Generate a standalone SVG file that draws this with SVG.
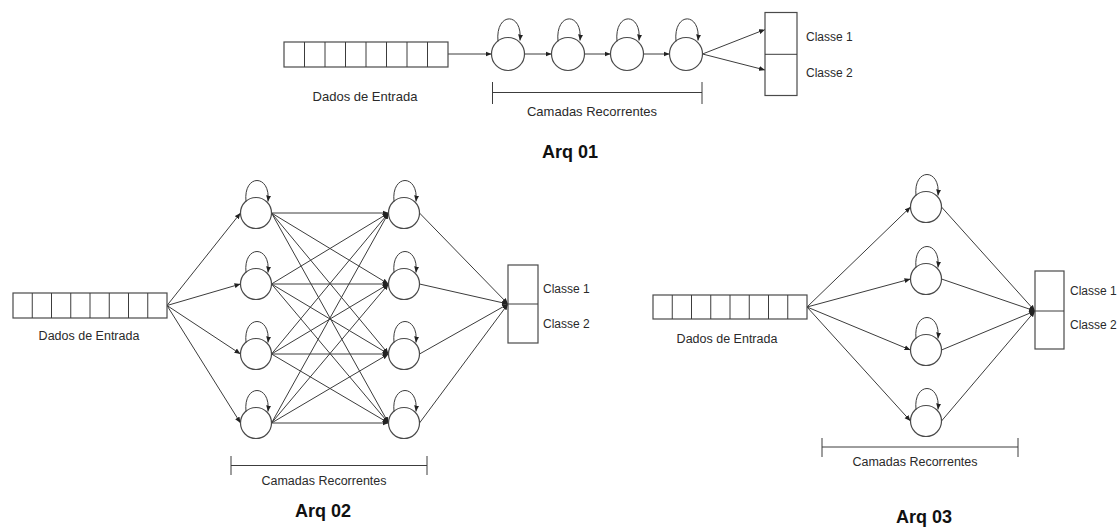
<svg xmlns="http://www.w3.org/2000/svg" width="1118" height="527" viewBox="0 0 1118 527">
<defs>
<marker id="ah" markerUnits="userSpaceOnUse" markerWidth="7" markerHeight="6" refX="6" refY="3" orient="auto">
<path d="M0,0.5 L6,3 L0,5.5 z" fill="#222"/>
</marker>
<style>
.ln{stroke:#3c3c3c;stroke-width:1;fill:none}
.arr{stroke:#3c3c3c;stroke-width:1;fill:none;marker-end:url(#ah)}
.nd{stroke:#4a4a4a;stroke-width:1.2;fill:#fff}
.box{stroke:#4a4a4a;stroke-width:1.2;fill:#fff}
.lbl{font-family:"Liberation Sans",Arial,sans-serif;fill:#2a2a2a}
.ttl{font-family:"Liberation Sans",Arial,sans-serif;font-weight:bold;font-size:18px;fill:#111;text-anchor:middle}
</style>
</defs>
<rect width="1118" height="527" fill="#fff"/>

<!-- ============ Connectors ============ -->
<g id="connectors">
<!-- Arq 01 -->
<line class="arr" x1="448" y1="54" x2="491.5" y2="54"/>
<line class="arr" x1="524.5" y1="54" x2="551.5" y2="54"/>
<line class="arr" x1="584.5" y1="54" x2="610.5" y2="54"/>
<line class="arr" x1="643.5" y1="54" x2="669.5" y2="54"/>
<line class="arr" x1="702.5" y1="54" x2="765" y2="29.5"/>
<line class="arr" x1="702.5" y1="54" x2="765" y2="70"/>
<!-- Arq 02 input -->
<line class="arr" x1="167" y1="305.5" x2="240.5" y2="213"/>
<line class="arr" x1="167" y1="305.5" x2="240.5" y2="284"/>
<line class="arr" x1="167" y1="305.5" x2="240.5" y2="354"/>
<line class="arr" x1="167" y1="305.5" x2="240.5" y2="423"/>
<!-- Arq 02 full connections -->
<line class="arr" x1="271.5" y1="213" x2="388.5" y2="213"/>
<line class="arr" x1="271.5" y1="213" x2="388.5" y2="284"/>
<line class="arr" x1="271.5" y1="213" x2="388.5" y2="354"/>
<line class="arr" x1="271.5" y1="213" x2="388.5" y2="423"/>
<line class="arr" x1="271.5" y1="284" x2="388.5" y2="213"/>
<line class="arr" x1="271.5" y1="284" x2="388.5" y2="284"/>
<line class="arr" x1="271.5" y1="284" x2="388.5" y2="354"/>
<line class="arr" x1="271.5" y1="284" x2="388.5" y2="423"/>
<line class="arr" x1="271.5" y1="354" x2="388.5" y2="213"/>
<line class="arr" x1="271.5" y1="354" x2="388.5" y2="284"/>
<line class="arr" x1="271.5" y1="354" x2="388.5" y2="354"/>
<line class="arr" x1="271.5" y1="354" x2="388.5" y2="423"/>
<line class="arr" x1="271.5" y1="423" x2="388.5" y2="213"/>
<line class="arr" x1="271.5" y1="423" x2="388.5" y2="284"/>
<line class="arr" x1="271.5" y1="423" x2="388.5" y2="354"/>
<line class="arr" x1="271.5" y1="423" x2="388.5" y2="423"/>
<!-- Arq 02 output -->
<line class="arr" x1="419.5" y1="213" x2="508" y2="304"/>
<line class="arr" x1="419.5" y1="284" x2="508" y2="304"/>
<line class="arr" x1="419.5" y1="354" x2="508" y2="304"/>
<line class="arr" x1="419.5" y1="423" x2="508" y2="304"/>
<!-- Arq 03 -->
<line class="arr" x1="807" y1="307" x2="910.5" y2="207"/>
<line class="arr" x1="807" y1="307" x2="910.5" y2="279"/>
<line class="arr" x1="807" y1="307" x2="910.5" y2="350"/>
<line class="arr" x1="807" y1="307" x2="910.5" y2="421"/>
<line class="arr" x1="941.5" y1="207" x2="1035" y2="311"/>
<line class="arr" x1="941.5" y1="279" x2="1035" y2="311"/>
<line class="arr" x1="941.5" y1="350" x2="1035" y2="311"/>
<line class="arr" x1="941.5" y1="421" x2="1035" y2="311"/>
</g>

<!-- ============ Arq 01 ============ -->
<g id="a1-input">
<rect class="box" x="284" y="42" width="164" height="25"/>
<path class="ln" d="M304.5,42V67M325,42V67M345.5,42V67M366,42V67M386.5,42V67M407,42V67M427.5,42V67"/>
<text class="lbl" x="365" y="101" font-size="13" text-anchor="middle">Dados de Entrada</text>
</g>
<g id="a1-n1"><circle class="nd" cx="508" cy="54" r="16.5"/><path class="arr" d="M498,41.5 C495,11.5 523,11.5 520,40.5"/></g>
<g id="a1-n2"><circle class="nd" cx="568" cy="54" r="16.5"/><path class="arr" d="M558,41.5 C555,11.5 583,11.5 580,40.5"/></g>
<g id="a1-n3"><circle class="nd" cx="627" cy="54" r="16.5"/><path class="arr" d="M617,41.5 C614,11.5 642,11.5 639,40.5"/></g>
<g id="a1-n4"><circle class="nd" cx="686" cy="54" r="16.5"/><path class="arr" d="M676,41.5 C673,11.5 701,11.5 698,40.5"/></g>
<g id="a1-out">
<rect class="box" x="765" y="12.5" width="32" height="83"/>
<line class="ln" x1="765" y1="54.3" x2="797" y2="54.3"/>
<text class="lbl" x="806" y="41" font-size="12">Classe 1</text>
<text class="lbl" x="806" y="77" font-size="12">Classe 2</text>
</g>
<g id="a1-bracket">
<path class="ln" d="M492.5,82V104M492.5,92.5H702M702,82V104"/>
<text class="lbl" x="592" y="116" font-size="13" text-anchor="middle">Camadas Recorrentes</text>
</g>
<text class="ttl" x="570" y="158">Arq 01</text>

<!-- ============ Arq 02 ============ -->
<g id="a2-input">
<rect class="box" x="13" y="293" width="154" height="25"/>
<path class="ln" d="M32.25,293V318M51.5,293V318M70.75,293V318M90,293V318M109.25,293V318M128.5,293V318M147.75,293V318"/>
<text class="lbl" x="89" y="340" font-size="12.5" text-anchor="middle">Dados de Entrada</text>
</g>
<g id="a2-l1-n1"><circle class="nd" cx="256" cy="213" r="15.5"/><path class="arr" d="M246,201.5 C243,173.5 271,173.5 268,201.5"/></g>
<g id="a2-l1-n2"><circle class="nd" cx="256" cy="284" r="15.5"/><path class="arr" d="M246,272.5 C243,244.5 271,244.5 268,272.5"/></g>
<g id="a2-l1-n3"><circle class="nd" cx="256" cy="354" r="15.5"/><path class="arr" d="M246,342.5 C243,314.5 271,314.5 268,342.5"/></g>
<g id="a2-l1-n4"><circle class="nd" cx="256" cy="423" r="15.5"/><path class="arr" d="M246,411.5 C243,383.5 271,383.5 268,411.5"/></g>
<g id="a2-l2-n1"><circle class="nd" cx="404" cy="213" r="15.5"/><path class="arr" d="M394,201.5 C391,173.5 419,173.5 416,201.5"/></g>
<g id="a2-l2-n2"><circle class="nd" cx="404" cy="284" r="15.5"/><path class="arr" d="M394,272.5 C391,244.5 419,244.5 416,272.5"/></g>
<g id="a2-l2-n3"><circle class="nd" cx="404" cy="354" r="15.5"/><path class="arr" d="M394,342.5 C391,314.5 419,314.5 416,342.5"/></g>
<g id="a2-l2-n4"><circle class="nd" cx="404" cy="423" r="15.5"/><path class="arr" d="M394,411.5 C391,383.5 419,383.5 416,411.5"/></g>
<g id="a2-out">
<rect class="box" x="508" y="265" width="30" height="78"/>
<line class="ln" x1="508" y1="304" x2="538" y2="304"/>
<text class="lbl" x="543" y="293" font-size="12">Classe 1</text>
<text class="lbl" x="543" y="328" font-size="12">Classe 2</text>
</g>
<g id="a2-bracket">
<path class="ln" d="M231,456V475M231,465.5H427M427,456V475"/>
<text class="lbl" x="324" y="485" font-size="12.5" text-anchor="middle">Camadas Recorrentes</text>
</g>
<text class="ttl" x="323" y="517">Arq 02</text>

<!-- ============ Arq 03 ============ -->
<g id="a3-input">
<rect class="box" x="653" y="295" width="154" height="24"/>
<path class="ln" d="M672.25,295V319M691.5,295V319M710.75,295V319M730,295V319M749.25,295V319M768.5,295V319M787.75,295V319"/>
<text class="lbl" x="727" y="343" font-size="12.5" text-anchor="middle">Dados de Entrada</text>
</g>
<g id="a3-n1"><circle class="nd" cx="926" cy="207" r="15.5"/><path class="arr" d="M916,195.5 C913,167.5 941,167.5 938,195.5"/></g>
<g id="a3-n2"><circle class="nd" cx="926" cy="279" r="15.5"/><path class="arr" d="M916,267.5 C913,239.5 941,239.5 938,267.5"/></g>
<g id="a3-n3"><circle class="nd" cx="926" cy="350" r="15.5"/><path class="arr" d="M916,338.5 C913,310.5 941,310.5 938,338.5"/></g>
<g id="a3-n4"><circle class="nd" cx="926" cy="421" r="15.5"/><path class="arr" d="M916,409.5 C913,381.5 941,381.5 938,409.5"/></g>
<g id="a3-out">
<rect class="box" x="1035" y="271" width="29" height="78"/>
<line class="ln" x1="1035" y1="311" x2="1064" y2="311"/>
<text class="lbl" x="1070" y="295" font-size="12">Classe 1</text>
<text class="lbl" x="1070" y="329" font-size="12">Classe 2</text>
</g>
<g id="a3-bracket">
<path class="ln" d="M822,438V457M822,447H1018M1018,438V457"/>
<text class="lbl" x="915" y="466" font-size="12.5" text-anchor="middle">Camadas Recorrentes</text>
</g>
<text class="ttl" x="924" y="523">Arq 03</text>
</svg>
